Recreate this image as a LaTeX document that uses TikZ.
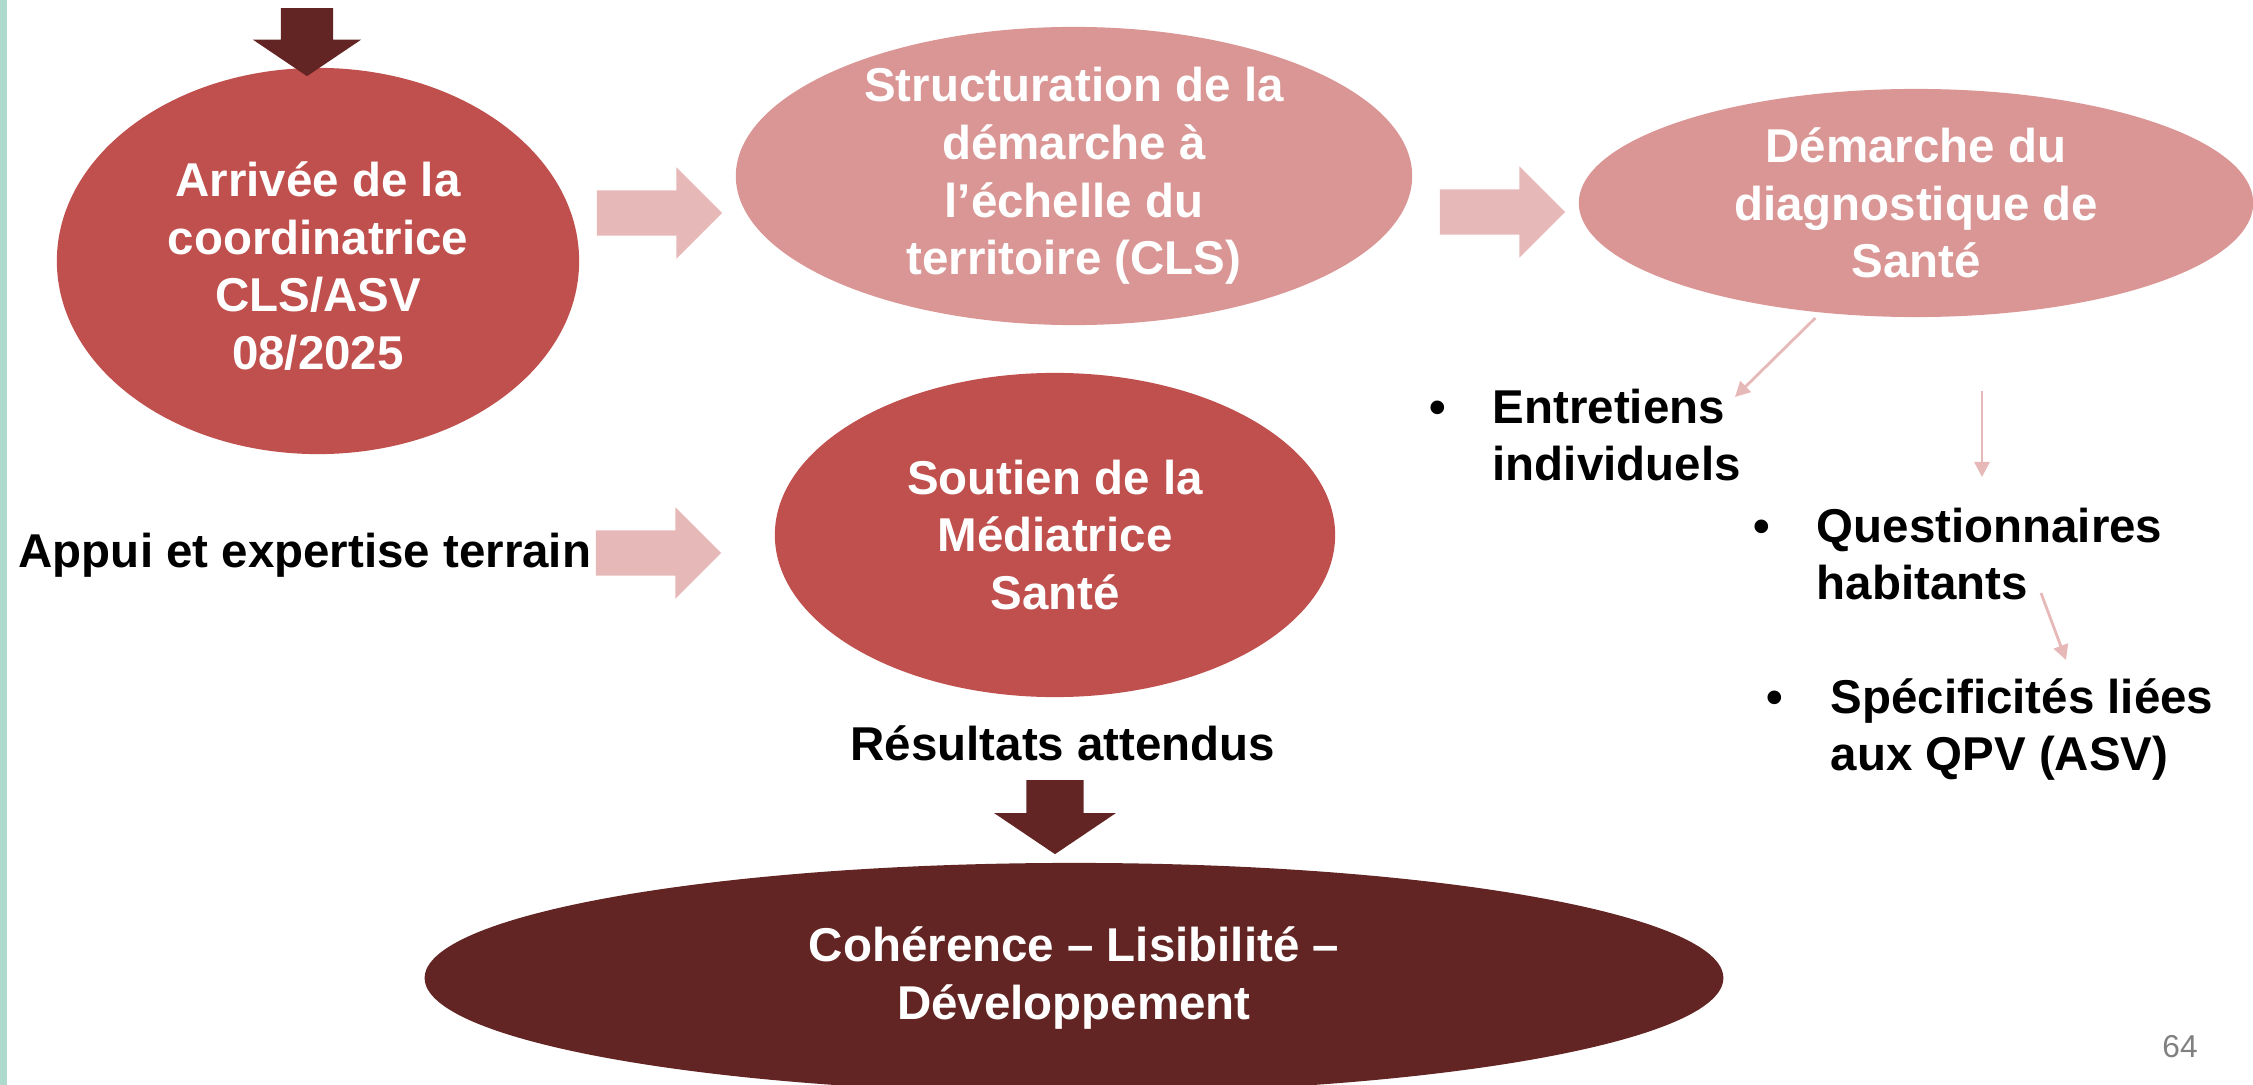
\documentclass[tikz,border=0pt]{standalone}
\usepackage{fontspec}
\setmainfont{Liberation Sans}
\usetikzlibrary{shapes.geometric,shapes.arrows,arrows.meta}
\definecolor{rougeclair}{HTML}{C0504D}
\definecolor{rosepale}{HTML}{D99694}
\definecolor{bordeaux}{HTML}{632523}
\definecolor{rosefleche}{HTML}{E6B9B8}
\definecolor{vertbord}{HTML}{ADDACC}
\begin{document}
\begin{tikzpicture}[x=0.01cm, y=-0.01cm,
  every node/.style={font=\fontsize{13.5}{16.4}\selectfont\bfseries},
  bulle/.style={ellipse, inner sep=0pt, draw=none},
  blanc/.style={text=white, align=center, inner sep=0pt},
  grosse fleche/.style={single arrow, fill=rosefleche, inner xsep=0pt, anchor=tip,
    inner ysep=0.22cm, single arrow head extend=0.23cm, minimum height=1.25cm},
  fleche sombre/.style={single arrow, fill=bordeaux, inner xsep=0pt, anchor=tip,
    single arrow tip angle=112, rotate=-90},
  puce/.style={anchor=base west, inner sep=0pt, align=left},
  fine/.style={draw=rosefleche, line width=0.8pt,
    -{Triangle[length=0.15cm,width=0.15cm]}}]
  \useasboundingbox (0,0) rectangle (2253,1085);
  \fill[vertbord] (0,0) rectangle (7,1085);

  % ligne du haut
  \node[bulle, fill=rougeclair, minimum width=5.22cm, minimum height=3.86cm] (arrivee) at (318,261) {};
  \node[blanc] (arrivee-texte) at (318,266) {Arrivée de la\\coordinatrice\\CLS/ASV\\08/2025};
  \node[fleche sombre, minimum height=0.68cm, inner ysep=0.255cm,
    single arrow head extend=0.28cm] (fleche-haut) at (307,77) {};

  \node[bulle, fill=rosepale, minimum width=6.76cm, minimum height=2.98cm] (structuration) at (1074,176) {};
  \node[blanc] (structuration-texte) at (structuration) {Structuration de la\\démarche à\\l’échelle du\\territoire (CLS)};

  \node[bulle, fill=rosepale, minimum width=6.74cm, minimum height=2.28cm] (diagnostic) at (1916,203) {};
  \node[blanc] (diagnostic-texte) at (diagnostic) {Démarche du\\diagnostique de\\Santé};

  \node[grosse fleche] (fleche-ab) at (723,213) {};
  \node[grosse fleche] (fleche-bc) at (1566,212) {};

  % ligne du milieu
  \node[anchor=west, inner sep=0pt] (appui) at (18,555) {Appui et expertise terrain};
  \node[grosse fleche] (fleche-appui) at (722,553) {};
  \node[bulle, fill=rougeclair, minimum width=5.60cm, minimum height=3.24cm] (soutien) at (1055,535) {};
  \node[blanc] (soutien-texte) at (soutien) {Soutien de la\\Médiatrice\\Santé};

  \node[puce] (entretiens) at (1429,423)
    {\begin{tabular}[t]{@{}p{0.63cm}@{}l@{}}•&Entretiens\\&individuels\end{tabular}};
  \node[puce] (questionnaires) at (1753,542)
    {\begin{tabular}[t]{@{}p{0.63cm}@{}l@{}}•&Questionnaires\\&habitants\end{tabular}};
  \node[puce] (specificites) at (1766,713)
    {\begin{tabular}[t]{@{}p{0.64cm}@{}l@{}}•&Spécificités liées\\&aux QPV (ASV)\end{tabular}};

  \coordinate (entretiens-pointe) at (1735,397);
  \coordinate (questionnaires-depart) at (1982,391);
  \coordinate (questionnaires-pointe) at (1982,477);
  \coordinate (specificites-depart) at (2041,593);
  \coordinate (specificites-pointe) at (2066,660);
  \draw[fine, shorten <=0.07cm] (diagnostic.229) -- (entretiens-pointe);
  \draw[fine] (questionnaires-depart) -- (questionnaires-pointe);
  \draw[fine] (specificites-depart) -- (specificites-pointe);

  % resultats
  \node[inner sep=0pt] (resultats) at (1063,743) {Résultats attendus};
  \node[fleche sombre, minimum height=0.74cm, inner ysep=0.28cm,
    single arrow head extend=0.32cm] (fleche-bas) at (1055,855) {};
  \node[bulle, fill=bordeaux, minimum width=12.98cm, minimum height=2.30cm] (coherence) at (1074,978) {};
  \node[blanc] (coherence-texte) at (coherence) {Cohérence – Lisibilité –\\Développement};

  \node[font=\fontsize{9}{11}\selectfont, text=gray, inner sep=0pt] (page) at (2180,1047) {64};
\end{tikzpicture}
\end{document}
